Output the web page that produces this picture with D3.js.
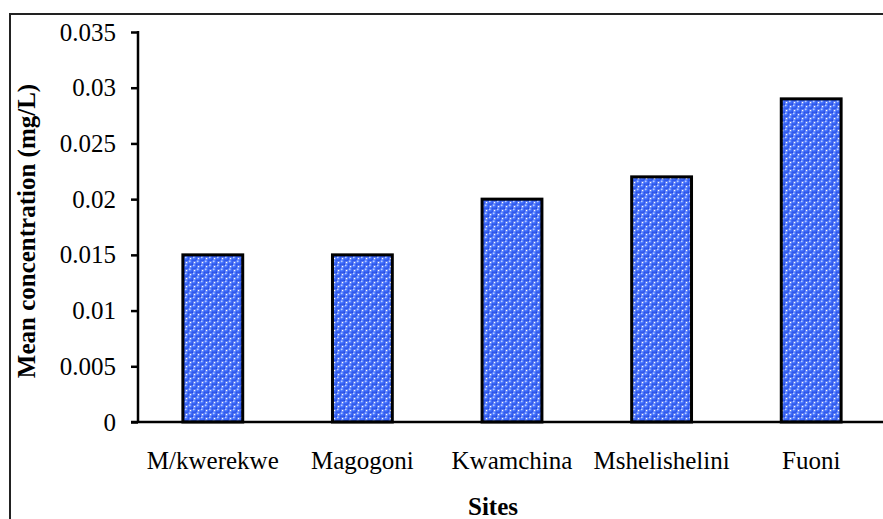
<!DOCTYPE html>
<html>
<head>
<meta charset="utf-8">
<script src="https://cdn.jsdelivr.net/npm/d3@7"></script>
<style>
  html, body { margin: 0; padding: 0; background: #fff; }
  svg { display: block; }
</style>
</head>
<body>
<svg id="chart" width="883" height="519"></svg>
<script>
// Mean concentration per sampling site
const sites = ["M/kwerekwe", "Magogoni", "Kwamchina", "Mshelishelini", "Fuoni"];
const meanConc = [0.015, 0.015, 0.020, 0.022, 0.029];
const yTicks = [0, 0.005, 0.01, 0.015, 0.02, 0.025, 0.03, 0.035];
const yTickLabels = ["0", "0.005", "0.01", "0.015", "0.02", "0.025", "0.03", "0.035"];

const svg = d3.select("#chart");
const W = 883, H = 519;
const plot = { left: 138, right: 886, top: 32, bottom: 422 };
const font = "'Liberation Serif', 'Times New Roman', serif";
const fs = 25;

// Sphere fill pattern for the bars
const defs = svg.append("defs");
const grad = defs.append("radialGradient").attr("id", "sphereGrad")
  .attr("cx", "38%").attr("cy", "32%").attr("r", "70%");
grad.append("stop").attr("offset", "0%").attr("stop-color", "#d6e0ff");
grad.append("stop").attr("offset", "30%").attr("stop-color", "#4a78ff");
grad.append("stop").attr("offset", "100%").attr("stop-color", "#1d44e0");
const pat = defs.append("pattern").attr("id", "spheres")
  .attr("patternUnits", "userSpaceOnUse").attr("width", 8).attr("height", 8);
pat.append("rect").attr("width", 8).attr("height", 8).attr("fill", "#7f9dff");
pat.append("rect").attr("x", 5).attr("y", 1).attr("width", 3).attr("height", 3).attr("fill", "#ffffff");
pat.append("rect").attr("x", 1).attr("y", 5).attr("width", 3).attr("height", 3).attr("fill", "#ffffff");
[[2.5, 2.5], [6.5, 6.5], [-1.5, 6.5], [6.5, -1.5], [-1.5, -1.5], [2.5, 10.5], [10.5, 2.5]].forEach(([cx, cy]) => {
  pat.append("circle").attr("cx", cx).attr("cy", cy).attr("r", 3.2).attr("fill", "url(#sphereGrad)");
});

// Outer chart frame (runs off the right and bottom edges)
svg.append("rect")
  .attr("x", 10).attr("y", 14).attr("width", W + 20).attr("height", H + 20)
  .attr("fill", "none").attr("stroke", "#222").attr("stroke-width", 2);

const x = d3.scaleBand().domain(sites).range([plot.left, plot.right])
  .paddingInner(0.6).paddingOuter(0.3);
const y = d3.scaleLinear().domain([0, 0.035]).range([plot.bottom, plot.top]);

// Bars
svg.append("g").selectAll("rect")
  .data(sites.map((s, i) => ({ site: s, value: meanConc[i] })))
  .join("rect")
  .attr("x", d => x(d.site))
  .attr("y", d => y(d.value))
  .attr("width", x.bandwidth())
  .attr("height", d => y(0) - y(d.value))
  .attr("fill", "url(#spheres)")
  .attr("stroke", "#000")
  .attr("stroke-width", 3);

// Y axis
const yAxis = d3.axisLeft(y).tickValues(yTicks)
  .tickFormat((d, i) => yTickLabels[i]).tickSizeOuter(0).tickSize(7).tickPadding(15);
const gy = svg.append("g").attr("transform", `translate(${plot.left},0)`).call(yAxis);
gy.select(".domain").attr("stroke", "#000").attr("stroke-width", 2.5)
  .attr("d", `M0,${plot.top - 1}V${plot.bottom}`);
gy.selectAll(".tick line").attr("stroke", "#000").attr("stroke-width", 2.5);
gy.selectAll(".tick text").attr("font-family", font).attr("font-size", fs).attr("fill", "#000");

// X axis
const xAxis = d3.axisBottom(x).tickSize(0).tickSizeOuter(0).tickPadding(29);
const gx = svg.append("g").attr("transform", `translate(0,${plot.bottom})`).call(xAxis);
gx.select(".domain").attr("stroke", "#000").attr("stroke-width", 2.5)
  .attr("d", `M${plot.left - 7},0H${W + 5}`);
gx.selectAll(".tick text").attr("font-family", font).attr("font-size", fs).attr("fill", "#000");

// Axis titles
svg.append("text")
  .attr("transform", `translate(35,${(plot.top + plot.bottom) / 2 + 4}) rotate(-90)`)
  .attr("text-anchor", "middle")
  .attr("font-family", font).attr("font-size", fs).attr("font-weight", "bold")
  .text("Mean concentration (mg/L)");

svg.append("text")
  .attr("x", 493).attr("y", 515)
  .attr("text-anchor", "middle")
  .attr("font-family", font).attr("font-size", fs).attr("font-weight", "bold")
  .text("Sites");
</script>
</body>
</html>
